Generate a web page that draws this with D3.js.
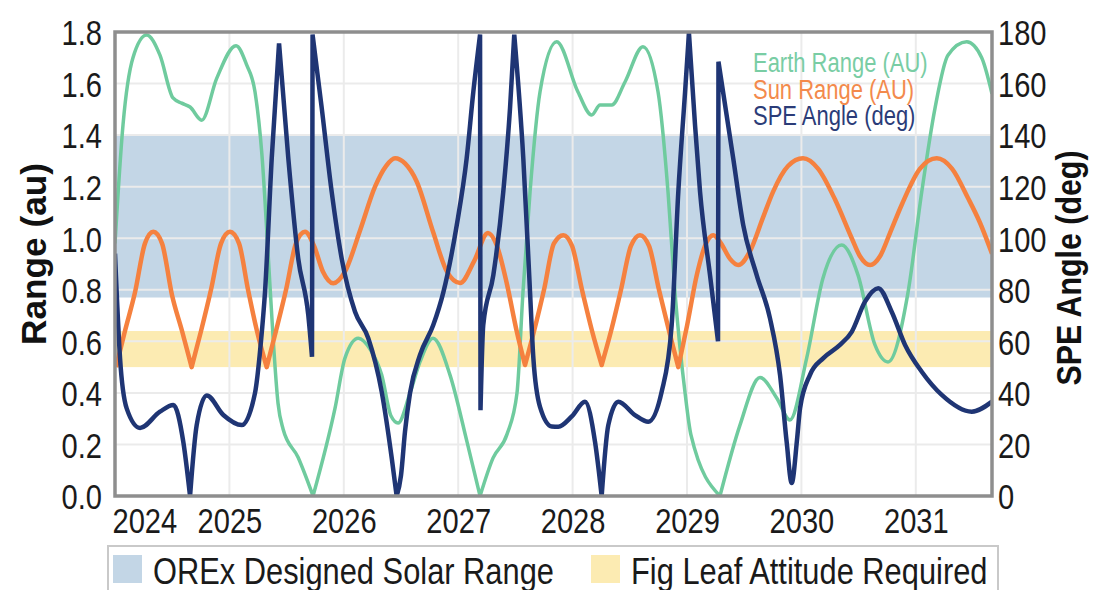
<!DOCTYPE html>
<html><head><meta charset="utf-8">
<script src="https://cdn.jsdelivr.net/npm/d3@7"></script>
<style>
body{margin:0;background:#fff;}
svg text{font-family:"Liberation Sans",Arial,sans-serif;}
</style>
</head><body>
<svg id="c" width="1094" height="590"></svg>
<script>
// ---------- data ----------
const yearTicks = [2024, 2025, 2026, 2027, 2028, 2029, 2030, 2031];
const rangeTicks = [0, 0.2, 0.4, 0.6, 0.8, 1.0, 1.2, 1.4, 1.6, 1.8];
const angleTicks = [0, 20, 40, 60, 80, 100, 120, 140, 160, 180];

const bandNames = ["OREx Designed Solar Range", "Fig Leaf Attitude Required"];
const bandLow = [0.77, 0.5];
const bandHigh = [1.4, 0.64];

const seriesNames = ["Earth Range (AU)", "Sun Range (AU)", "SPE Angle (deg)"];

const earthRange = [
  [2024.000,0.98],[2024.070,1.44],[2024.157,1.70],[2024.277,1.788],[2024.393,1.71],[2024.507,1.544],
  [2024.583,1.524],[2024.656,1.509],[2024.758,1.458],[2024.889,1.62],[2025.058,1.747],[2025.151,1.672],
  [2025.224,1.567],[2025.285,1.32],[2025.337,0.95],[2025.381,0.62],[2025.425,0.36],[2025.469,0.26],
  [2025.600,0.15],[2025.731,0.0],[2025.923,0.34],[2026.010,0.535],[2026.127,0.612],[2026.229,0.57],
  [2026.331,0.47],[2026.413,0.31],[2026.474,0.283],[2026.579,0.40],[2026.666,0.52],[2026.780,0.612],
  [2026.928,0.47],[2027.077,0.21],[2027.191,0.0],[2027.304,0.147],[2027.427,0.24],[2027.514,0.40],
  [2027.566,0.79],[2027.628,1.18],[2027.715,1.567],[2027.861,1.762],[2028.047,1.567],[2028.167,1.478],
  [2028.240,1.517],[2028.342,1.517],[2028.458,1.606],[2028.615,1.743],[2028.747,1.567],[2028.834,1.18],
  [2028.895,0.79],[2028.983,0.40],[2029.035,0.236],[2029.288,0.0],[2029.463,0.275],[2029.638,0.46],
  [2029.784,0.38],[2029.900,0.295],[2030.046,0.535],[2030.189,0.846],[2030.352,0.974],[2030.495,0.857],
  [2030.643,0.586],[2030.757,0.52],[2030.932,0.79],[2031.052,1.18],[2031.168,1.505],[2031.281,1.71],
  [2031.445,1.762],[2031.576,1.70],[2031.666,1.56]
];
const earthCusps = [2025.731, 2027.191, 2029.288];

const sunRange = [
  [2024.009,0.50],[2024.087,0.64],[2024.175,0.79],[2024.262,0.98],[2024.335,1.025],[2024.411,0.98],
  [2024.498,0.78],[2024.586,0.64],[2024.670,0.50],[2024.752,0.64],[2024.839,0.80],[2024.927,0.98],
  [2025.005,1.025],[2025.084,0.98],[2025.163,0.80],[2025.241,0.64],[2025.326,0.50],[2025.407,0.64],
  [2025.495,0.80],[2025.582,0.98],[2025.661,1.025],[2025.740,0.97],[2025.818,0.87],[2025.908,0.825],
  [2026.010,0.87],[2026.142,1.03],[2026.273,1.20],[2026.369,1.28],[2026.448,1.31],[2026.535,1.29],
  [2026.637,1.22],[2026.780,1.025],[2026.902,0.87],[2027.016,0.826],[2027.138,0.91],[2027.260,1.02],
  [2027.339,0.97],[2027.427,0.82],[2027.511,0.64],[2027.584,0.508],[2027.663,0.64],[2027.750,0.80],
  [2027.837,0.98],[2027.919,1.012],[2027.995,0.97],[2028.082,0.80],[2028.170,0.64],[2028.254,0.508],
  [2028.336,0.64],[2028.423,0.80],[2028.510,0.97],[2028.589,1.012],[2028.668,0.97],[2028.755,0.80],
  [2028.843,0.64],[2028.924,0.50],[2029.000,0.66],[2029.087,0.86],[2029.166,0.98],[2029.230,1.012],
  [2029.297,0.98],[2029.376,0.92],[2029.448,0.896],[2029.551,0.95],[2029.664,1.08],[2029.752,1.18],
  [2029.883,1.28],[2030.014,1.31],[2030.145,1.27],[2030.294,1.15],[2030.440,1.0],[2030.512,0.93],
  [2030.600,0.896],[2030.687,0.93],[2030.774,1.02],[2030.877,1.13],[2031.037,1.27],[2031.183,1.31],
  [2031.316,1.27],[2031.456,1.156],[2031.561,1.06],[2031.666,0.94]
];
const sunCusps = [2024.670, 2025.326, 2027.584, 2028.254, 2028.924];

const speAngle = [
  [2024.000,94],[2024.044,53.5],[2024.102,34],[2024.219,26.4],[2024.393,32.7],[2024.510,35.3],
  [2024.597,21],[2024.656,0],[2024.714,27.5],[2024.802,39],[2024.947,31.4],[2025.108,27.5],
  [2025.224,40],[2025.276,60],[2025.311,79],[2025.370,131],[2025.434,175.6],[2025.515,131],
  [2025.602,92],[2025.690,70],[2025.722,54],[2025.727,179],[2025.807,150.5],[2025.894,118],
  [2025.982,92],[2026.098,71.5],[2026.214,61.2],[2026.331,40.5],[2026.419,14.7],[2026.462,0],
  [2026.500,8],[2026.535,25],[2026.579,40],[2026.666,54.7],[2026.782,66.3],[2026.870,79],
  [2026.987,105],[2027.074,131],[2027.132,156.7],[2027.191,179],[2027.195,33.3],[2027.219,66.3],
  [2027.307,85.7],[2027.394,118],[2027.453,150.5],[2027.490,179],[2027.569,131],[2027.628,79],
  [2027.657,53.5],[2027.715,34.6],[2027.818,27],[2027.875,26.9],[2027.995,31],[2028.108,36.6],
  [2028.196,21],[2028.254,0],[2028.312,27.5],[2028.400,36.6],[2028.545,31.4],[2028.662,28.8],
  [2028.779,40.5],[2028.866,66.3],[2028.924,118],[2028.983,156.7],[2029.017,179.6],[2029.070,144],
  [2029.114,118],[2029.201,85.7],[2029.271,60],[2029.275,168.5],[2029.404,131],[2029.492,105],
  [2029.609,85.7],[2029.725,69],[2029.813,47],[2029.871,21],[2029.915,5],[2029.962,22],
  [2029.988,34],[2030.075,47],[2030.192,53.5],[2030.337,58.6],[2030.440,63.7],[2030.556,75.4],
  [2030.672,80.6],[2030.789,71.5],[2030.906,58.6],[2031.052,48.2],[2031.227,39.2],[2031.489,32.7],
  [2031.666,36.6]
];
const speCusps = [2024.656, 2025.434, 2025.722, 2025.727, 2026.462, 2027.191, 2027.195, 2027.490,
                  2028.254, 2029.017, 2029.271, 2029.275];

// ---------- drawing ----------
const svg = d3.select("#c");
const L = 115, R = 992, T = 32, B = 496;
const NARROW = 0.82;
const x = d3.scaleLinear().domain([2024, 2031.666]).range([L, R]);
const y = d3.scaleLinear().domain([0, 1.8]).range([B, T]);
const yA = d3.scaleLinear().domain([0, 180]).range([B, T]);

const bandColors = ["#c3d6e6", "#fcebb2"];
const lineColors = ["#6fcb9e", "#f5813f", "#1f3574"];
const textColors = ["#79cda4", "#f38a4c", "#2b3c78"];

svg.append("defs").append("clipPath").attr("id", "plotclip")
  .append("rect").attr("x", L).attr("y", T).attr("width", R - L).attr("height", B - T);

// bands
svg.append("g").selectAll("rect").data(bandNames).join("rect")
  .attr("x", L).attr("width", R - L)
  .attr("y", (d, i) => y(bandHigh[i]))
  .attr("height", (d, i) => y(bandLow[i]) - y(bandHigh[i]))
  .attr("fill", (d, i) => bandColors[i]);

// grid
const grid = svg.append("g").attr("stroke", "#ebebeb").attr("stroke-width", 2);
grid.selectAll("line.h").data(rangeTicks.slice(1, -1)).join("line")
  .attr("x1", L).attr("x2", R).attr("y1", d => y(d)).attr("y2", d => y(d));
grid.selectAll("line.v").data(yearTicks.slice(1)).join("line")
  .attr("y1", T).attr("y2", B).attr("x1", d => x(d)).attr("x2", d => x(d));

// cusp-aware curve
function cuspPath(data, cusps, ys) {
  const line = d3.line().x(d => x(d[0])).y(d => ys(d[1])).curve(d3.curveMonotoneX);
  const idx = [0];
  data.forEach((d, i) => { if (i > 0 && i < data.length - 1 && cusps.includes(d[0])) idx.push(i); });
  idx.push(data.length - 1);
  let p = "";
  for (let k = 0; k < idx.length - 1; k++) {
    let s = line(data.slice(idx[k], idx[k + 1] + 1));
    if (k > 0) s = s.replace(/^M[^LC]*/, "");
    p += s;
  }
  return p;
}

const plot = svg.append("g").attr("clip-path", "url(#plotclip)");
plot.append("path").attr("d", cuspPath(earthRange, earthCusps, y))
  .attr("fill", "none").attr("stroke", lineColors[0]).attr("stroke-width", 3.5).attr("stroke-linejoin", "round");
plot.append("path").attr("d", cuspPath(sunRange, sunCusps, y))
  .attr("fill", "none").attr("stroke", lineColors[1]).attr("stroke-width", 4.5).attr("stroke-linejoin", "round");
plot.append("path").attr("d", cuspPath(speAngle, speCusps, yA))
  .attr("fill", "none").attr("stroke", lineColors[2]).attr("stroke-width", 4.5)
  .attr("stroke-linejoin", "miter").attr("stroke-miterlimit", 6);

// border
svg.append("rect").attr("x", L).attr("y", T).attr("width", R - L).attr("height", B - T)
  .attr("fill", "none").attr("stroke", "#8e8e8e").attr("stroke-width", 3.5);

// axes
const fs = 35.5;
const ax1 = svg.append("g").attr("transform", `translate(${L},0)`)
  .call(d3.axisLeft(y).tickValues(rangeTicks).tickFormat(d3.format(".1f")).tickSize(0).tickPadding(13));
const ax2 = svg.append("g").attr("transform", `translate(${R},0)`)
  .call(d3.axisRight(yA).tickValues(angleTicks).tickFormat(d3.format("d")).tickSize(0).tickPadding(6));
const ax3 = svg.append("g").attr("transform", `translate(0,${B})`)
  .call(d3.axisBottom(x).tickValues(yearTicks).tickFormat(d3.format("d")).tickSize(0).tickPadding(12));
[ax1, ax2, ax3].forEach(a => {
  a.select(".domain").remove();
  a.selectAll("text").attr("font-size", fs).attr("fill", "#1a1a1a")
    .style("font-family", '"Liberation Sans",Arial,sans-serif')
    .each(function () {
      const t = d3.select(this);
      const x0 = +(t.attr("x") || 0);
      t.attr("x", x0 / NARROW).attr("transform", `scale(${NARROW},1)`);
    });
});
ax1.selectAll("text").attr("dy", "0.36em");
ax2.selectAll("text").attr("dy", "0.36em");
ax3.selectAll("text").filter(d => d === 2024).attr("text-anchor", "start").attr("x", -3 / NARROW);

// axis titles
svg.append("text").attr("transform", "translate(46,254) rotate(-90)")
  .attr("text-anchor", "middle").attr("font-weight", "bold").attr("font-size", 35)
  .attr("textLength", 182).attr("lengthAdjust", "spacingAndGlyphs")
  .attr("fill", "#111").text("Range (au)");
svg.append("text").attr("transform", "translate(1081,268) rotate(-90)")
  .attr("text-anchor", "middle").attr("font-weight", "bold").attr("font-size", 35)
  .attr("textLength", 235).attr("lengthAdjust", "spacingAndGlyphs")
  .attr("fill", "#111").text("SPE Angle (deg)");

// series legend
svg.append("g").selectAll("text").data(seriesNames).join("text")
  .attr("transform", (d, i) => `translate(753,${72 + i * 26.5}) scale(${NARROW},1)`)
  .attr("font-size", 26.8).attr("fill", (d, i) => textColors[i]).text(d => d);

// band legend
const lg = svg.append("g");
lg.append("rect").attr("x", 108).attr("y", 546).attr("width", 890).attr("height", 60)
  .attr("fill", "#fff").attr("stroke", "#c9c9c9").attr("stroke-width", 2);
const swX = [113, 591];
bandNames.forEach((n, i) => {
  lg.append("rect").attr("x", swX[i]).attr("y", 555).attr("width", 29).attr("height", 28).attr("fill", bandColors[i]);
  lg.append("text").attr("transform", `translate(${swX[i] + 40},584) scale(${NARROW},1)`)
    .attr("font-size", 37.6).attr("fill", "#1a1a1a").text(n);
});
</script>
</body></html>
